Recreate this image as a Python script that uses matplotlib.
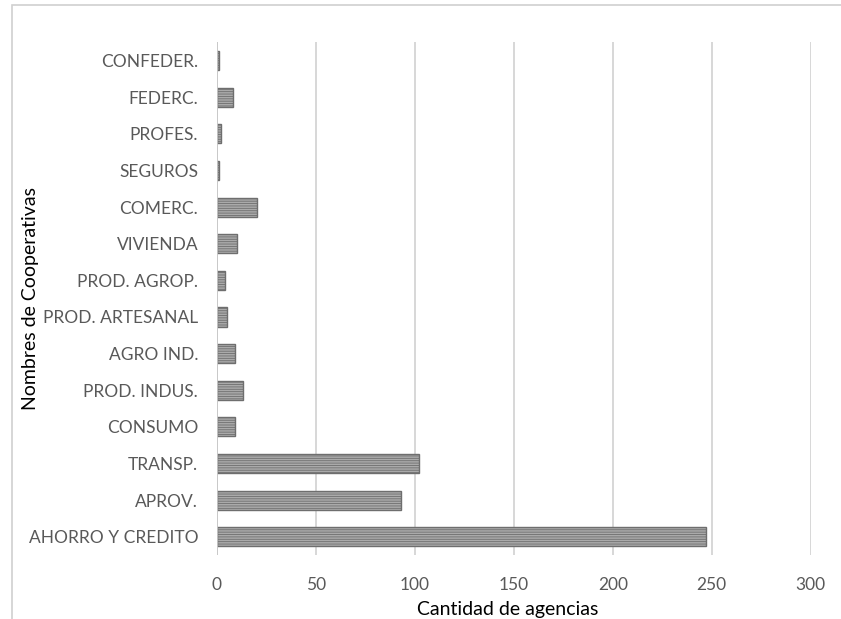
import matplotlib.pyplot as plt
from matplotlib.patches import Rectangle

plt.rcParams['font.family'] = ['Lato', 'DejaVu Sans']
plt.rcParams['hatch.color'] = '#8c8c8c'
plt.rcParams['hatch.linewidth'] = 0.6

# Data (bottom to top)
categories = ['AHORRO Y CREDITO', 'APROV.', 'TRANSP.', 'CONSUMO', 'PROD. INDUS.',
              'AGRO IND.', 'PROD. ARTESANAL', 'PROD. AGROP.', 'VIVIENDA', 'COMERC.',
              'SEGUROS', 'PROFES.', 'FEDERC.', 'CONFEDER.']
agencias = [247, 93, 102, 9, 13, 9, 5, 4, 10, 20, 1, 2, 8, 1]
xticks = [0, 50, 100, 150, 200, 250, 300]

fig = plt.figure(figsize=(8.41, 6.19), dpi=100)
ax = fig.add_axes([0.258, 0.103, 0.706, 0.829])

# outer chart border (Excel style)
fig.patches.append(Rectangle((12 / 841, -0.1), 1.1, 1.1 - 5 / 619, transform=fig.transFigure,
                             fill=False, edgecolor='#d0d0d0', linewidth=1.2))

ax.barh(categories, agencias, height=0.52, color='#aaaaaa', edgecolor='#6e6e6e',
        linewidth=1.0, hatch='-------', zorder=3)

ax.set_xlim(0, 300)
ax.set_ylim(-0.5, len(categories) - 0.5)
ax.set_xticks(xticks)
ax.grid(axis='x', color='#d4d4d4', linewidth=1.3, zorder=0)
ax.axvline(0, color='#c8c8c8', linewidth=1.3, zorder=4)

for s in ax.spines.values():
    s.set_visible(False)
ax.tick_params(length=0, labelsize=12.5, labelcolor='#595959')
ax.tick_params(axis='x', pad=16)
ax.tick_params(axis='y', pad=13.5)

ax.set_xlabel('Cantidad de agencias', fontsize=14, color='black')
ax.xaxis.set_label_coords(0.49, -0.09)
ax.set_ylabel('Nombres de Cooperativas', fontsize=14, color='black')
ax.yaxis.set_label_coords(-0.30, 0.5)

fig.savefig('out.png', dpi=100)
